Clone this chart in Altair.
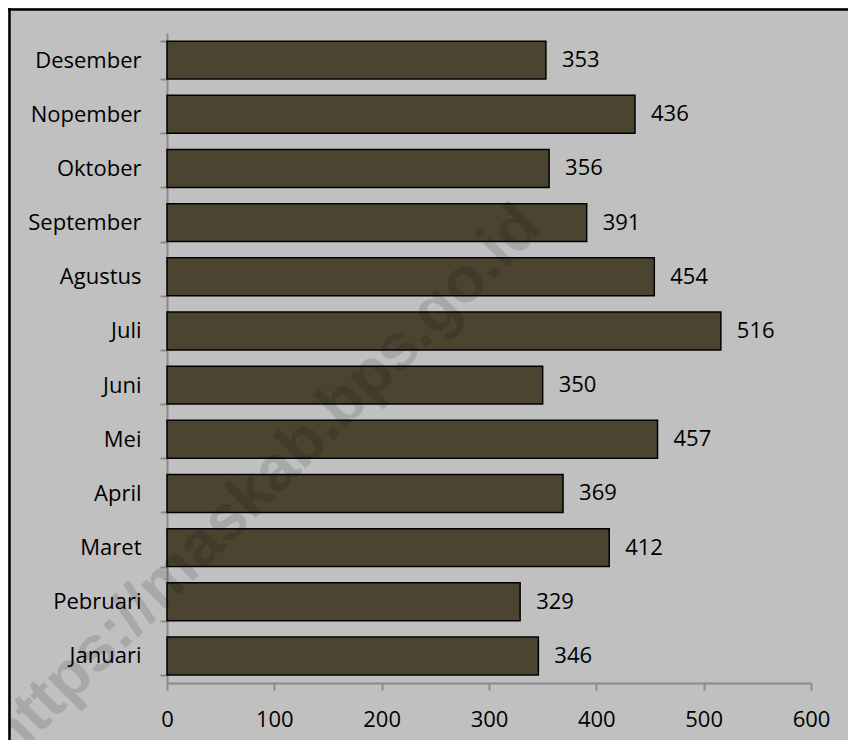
import altair as alt
import pandas as pd

months = ["Januari", "Pebruari", "Maret", "April", "Mei", "Juni", "Juli",
          "Agustus", "September", "Oktober", "Nopember", "Desember"]
values = [346, 329, 412, 369, 457, 350, 516, 454, 391, 356, 436, 353]
x_ticks = [0, 100, 200, 300, 400, 500, 600]
watermark = ["https://maskab.bps.go.id"]

df = pd.DataFrame({"bulan": months, "nilai": values})
wm = pd.DataFrame({"t": watermark})
one = pd.DataFrame({"a": [0]})

FONT = "Open Sans"
FS = 22
AXIS_GREY = "#8a8a8a"

y_enc = alt.Y(
    "bulan:N",
    sort=months[::-1],
    scale=alt.Scale(paddingInner=0.3, paddingOuter=0.15),
    axis=alt.Axis(title=None, labelFont=FONT, labelFontSize=FS, labelColor="black",
                  labelPadding=19, tickSize=7, tickColor=AXIS_GREY, domainColor=AXIS_GREY,
                  tickBand="extent", tickWidth=2, domainWidth=2),
)
x_enc = alt.X(
    "nilai:Q",
    scale=alt.Scale(domain=[0, 600]),
    axis=alt.Axis(values=x_ticks, title=None, grid=False, labelFont=FONT, labelFontSize=FS,
                  labelColor="black", labelPadding=19, tickSize=7, tickColor=AXIS_GREY,
                  domainColor=AXIS_GREY, tickWidth=2, domainWidth=2, labelFlush=False),
)

base = alt.Chart(df)
bars = base.mark_bar(color="#4a4430", stroke="black", strokeWidth=1.5).encode(x=x_enc, y=y_enc)
labels = base.mark_text(align="left", baseline="middle", dx=16, fontSize=FS, font=FONT,
                        color="black").encode(x="nilai:Q", y=alt.Y("bulan:N", sort=months[::-1]),
                                               text="nilai:Q")

mark_wm = alt.Chart(wm).mark_text(angle=315, fontSize=64, fontWeight="bold",
                                  font="Liberation Sans", color="black", opacity=0.12,
                                  align="center", baseline="middle").encode(
    text="t:N", x=alt.value(97), y=alt.value(450))

border_left = alt.Chart(one).mark_rule(color="black", strokeWidth=2.5).encode(
    x=alt.value(-157.5), y=alt.value(-25), y2=alt.value(720))
border_top = alt.Chart(one).mark_rule(color="black", strokeWidth=2.5).encode(
    y=alt.value(-23.5), x=alt.value(-159), x2=alt.value(700))

chart = alt.layer(bars, labels, mark_wm, border_left, border_top).properties(
    width=644, height=650,
    padding={"left": 159, "top": 25, "right": 37, "bottom": 57},
    autosize="none",
    background="#c0c0c0",
).configure_view(stroke=None)

chart.save("out.html", embed_options={"renderer": "svg", "actions": False})
